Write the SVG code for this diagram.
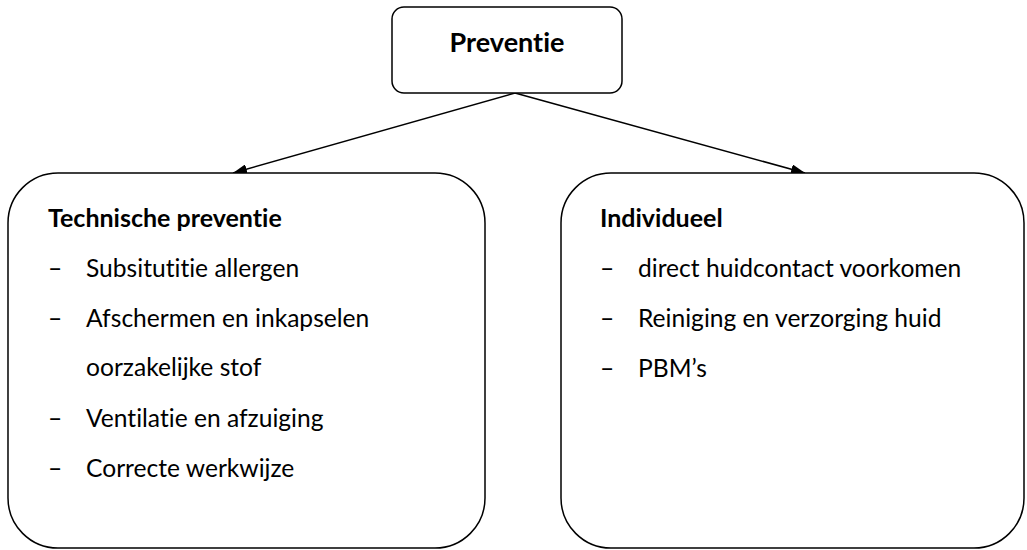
<svg xmlns="http://www.w3.org/2000/svg" width="1027" height="550" viewBox="0 0 1027 550">
<style>
.box{fill:#fff;stroke:#000;stroke-width:1.5}
.t{font-family:Lato,"Open Sans",sans-serif;font-size:24.6px;fill:#000;font-variant-ligatures:none}
.b{font-weight:bold;font-size:25px}
.h{font-weight:bold;font-size:27px}
.c{stroke:#000;stroke-width:1.5;fill:none}
</style>
<defs>
<marker id="ah" viewBox="0 0 14 10" refX="14" refY="5" markerWidth="14" markerHeight="10" markerUnits="userSpaceOnUse" orient="auto">
<path d="M0,0 L14,5 L0,10 z" fill="#000"/>
</marker>
</defs>
<rect width="1027" height="550" fill="#fff"/>
<g id="connectors">
<line class="c" x1="515" y1="93" x2="233" y2="173" marker-end="url(#ah)"/>
<line class="c" x1="515" y1="93" x2="805" y2="173" marker-end="url(#ah)"/>
</g>
<g id="preventie">
<rect class="box" x="392" y="7" width="230" height="86" rx="12"/>
<text class="t h" x="507" y="52" text-anchor="middle">Preventie</text>
</g>
<g id="technische">
<rect class="box" x="8" y="173" width="477" height="375" rx="50"/>
<text class="t b" x="48" y="227">Technische preventie</text>
<text class="t" x="48" y="277">–</text><text class="t" x="86" y="277">Subsitutitie allergen</text>
<text class="t" x="48" y="327">–</text><text class="t" x="86" y="327">Afschermen en inkapselen</text>
<text class="t" x="86" y="376">oorzakelijke stof</text>
<text class="t" x="48" y="427">–</text><text class="t" x="86" y="427">Ventilatie en afzuiging</text>
<text class="t" x="48" y="477">–</text><text class="t" x="86" y="477">Correcte werkwijze</text>
</g>
<g id="individueel">
<rect class="box" x="561" y="173" width="463" height="375" rx="50"/>
<text class="t b" x="600" y="227">Individueel</text>
<text class="t" x="600" y="277">–</text><text class="t" x="638" y="277">direct huidcontact voorkomen</text>
<text class="t" x="600" y="327">–</text><text class="t" x="638" y="327">Reiniging en verzorging huid</text>
<text class="t" x="600" y="377">–</text><text class="t" x="638" y="377">PBM’s</text>
</g>
</svg>
